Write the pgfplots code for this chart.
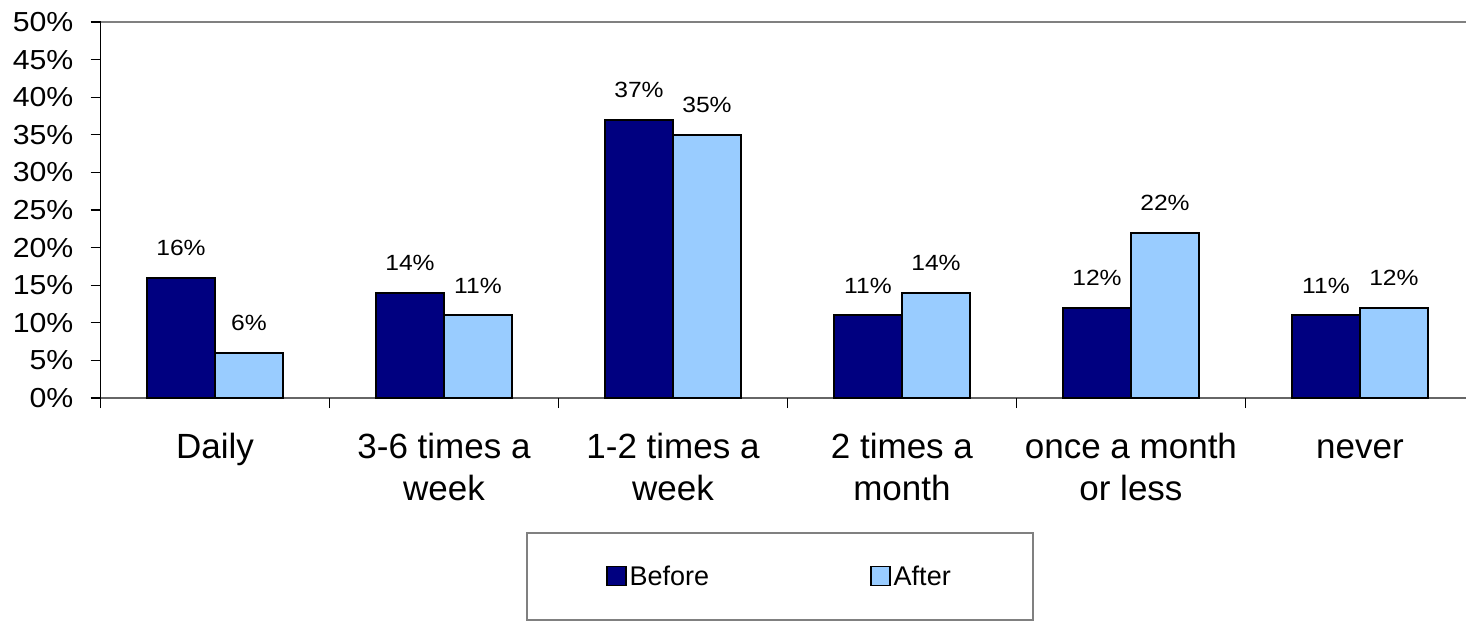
\documentclass[border=0pt]{standalone}
\usepackage{fontspec}
\setmainfont{Liberation Sans}
\newfontfamily\widefont[FakeStretch=1.12]{Liberation Sans}
\newfontfamily\tickfamily[FakeStretch=1.1]{Liberation Sans}
\newcommand\tickfont{\tickfamily\fontsize{27.5}{32}\selectfont}
\newcommand\datafont{\widefont\fontsize{22}{26}\selectfont}
\usepackage{pgfplots}
\pgfplotsset{compat=1.18}
\definecolor{before}{RGB}{0,0,128}
\definecolor{after}{RGB}{153,204,255}
\begin{document}
\begin{tikzpicture}
\path[use as bounding box] (0,0) rectangle (1466pt,624pt);
\begin{axis}[
  at={(100.5pt,226pt)}, anchor=south west,
  scale only axis, width=1365.5pt, height=376pt,
  xmin=-0.5, xmax=5.463, ymin=0, ymax=50,
  ybar=0pt, bar width=68pt,
  axis x line*=bottom, axis y line*=left,
  x axis line style={draw=gray!80!black, line width=1.5pt},
  y axis line style={draw=black, line width=1.5pt},
  tick align=outside, major tick length=10pt,
  /pgf/number format/assume math mode=true,
  ytick={0,5,...,50},
  yticklabels={{\tickfont 0\%},{\tickfont 5\%},{\tickfont 10\%},{\tickfont 15\%},{\tickfont 20\%},{\tickfont 25\%},{\tickfont 30\%},{\tickfont 35\%},{\tickfont 40\%},{\tickfont 45\%},{\tickfont 50\%}},
  yticklabel style={anchor=east, inner sep=0pt, xshift=-17pt},
  ytick style={draw=black, line width=1.2pt},
  xtick={0,...,5},
  xticklabels={{\strut Daily}, {\strut 3-6 times a\\week}, {\strut 1-2 times a\\week}, {\strut 2 times a\\month}, {\strut once a month\\or less}, {\strut never}},
  xticklabel style={font=\fontsize{35}{42}\selectfont, align=center, anchor=north, inner sep=0pt, yshift=-21pt},
  xtick style={draw=none},
  extra x ticks={-0.5,0.5,1.5,2.5,3.5,4.5},
  extra x tick labels={},
  extra x tick style={xtick style={draw=black, line width=1.2pt}},
  nodes near coords={\datafont\pgfmathprintnumber{\pgfplotspointmeta}\%},
  nodes near coords style={inner sep=0pt, anchor=south, yshift=21pt, text=black},
  legend columns=2,
  legend image code/.code={\draw[#1,draw=black,line width=1.5pt] (0pt,-9pt) rectangle (19pt,10pt);},
  legend style={at={(rel axis cs:0.4976,-0.4747)}, anchor=center, draw=gray, line width=1.5pt,
    inner xsep=79pt, inner ysep=30pt, font=\fontsize{27}{32}\selectfont,
    nodes={inner sep=3pt},
    /tikz/every even column/.append style={column sep=158pt}},
]
\addplot[fill=before, draw=black, line width=2pt] coordinates {(0,16) (1,14) (2,37) (3,11) (4,12) (5,11)};
\addplot[fill=after, draw=black, line width=2pt] coordinates {(0,6) (1,11) (2,35) (3,14) (4,22) (5,12)};
\legend{Before, After}
\draw[gray, line width=1.5pt] (rel axis cs:0,1) -- (rel axis cs:1,1);
\end{axis}
\end{tikzpicture}
\end{document}
